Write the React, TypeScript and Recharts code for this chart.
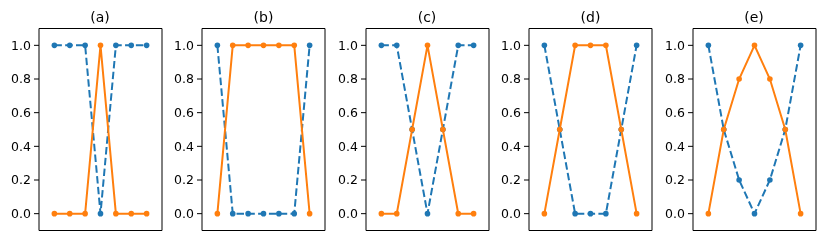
import { LineChart, Line, XAxis, YAxis, ReferenceArea } from "recharts";

const xs = [0, 1, 2, 3, 4, 5, 6];
const panelTitles = ["(a)", "(b)", "(c)", "(d)", "(e)"];
const blueA = [1, 1, 1, 0, 1, 1, 1];
const orangeA = [0, 0, 0, 1, 0, 0, 0];
const blueB = [1, 0, 0, 0, 0, 0, 1];
const orangeB = [0, 1, 1, 1, 1, 1, 0];
const blueC = [1, 1, 0.5, 0, 0.5, 1, 1];
const orangeC = [0, 0, 0.5, 1, 0.5, 0, 0];
const blueD = [1, 0.5, 0, 0, 0, 0.5, 1];
const orangeD = [0, 0.5, 1, 1, 1, 0.5, 0];
const blueE = [1, 0.5, 0.2, 0, 0.2, 0.5, 1];
const orangeE = [0, 0.5, 0.8, 1, 0.8, 0.5, 0];
const yTicks = [0, 0.2, 0.4, 0.6, 0.8, 1.0];

const series = [
  [blueA, orangeA],
  [blueB, orangeB],
  [blueC, orangeC],
  [blueD, orangeD],
  [blueE, orangeE],
];

const BLUE = "#1f77b4";
const ORANGE = "#ff7f0e";
const FONT = "DejaVu Sans, sans-serif";

const plotLefts = [38.5, 202, 365.5, 529, 692.5];
const plotW = 123;
const axisW = 40;
const top = 28.5;
const bottom = 15.5;
const H = 246;

function Panel({ idx }: { idx: number }) {
  const [blue, orange] = series[idx];
  const data = xs.map((x, i) => ({ x, blue: blue[i], orange: orange[i] }));
  const left = plotLefts[idx] - axisW;
  return (
    <div style={{ position: "absolute", left, top: 0, width: plotW + axisW + 2, height: H }}>
      <div
        style={{
          position: "absolute",
          left: axisW,
          width: plotW,
          top: 8,
          textAlign: "center",
          fontFamily: FONT,
          fontSize: 14,
          lineHeight: "18px",
          color: "#000",
        }}
      >
        {panelTitles[idx]}
      </div>
      <LineChart
        width={plotW + axisW + 2}
        height={H}
        data={data}
        margin={{ top, bottom, left: 0, right: 2 }}
      >
        <XAxis type="number" dataKey="x" domain={[-1, 7]} hide allowDataOverflow />
        <YAxis
          type="number"
          domain={[-0.1, 1.1]}
          ticks={yTicks}
          width={axisW}
          allowDataOverflow
          axisLine={false}
          tickSize={5}
          tickMargin={3}
          tickLine={{ stroke: "#000" }}
          tick={{ fill: "#000", fontSize: 12.5, fontFamily: FONT }}
          tickFormatter={(v: number) => v.toFixed(1)}
        />
        <ReferenceArea
          x1={-1}
          x2={7}
          y1={-0.1}
          y2={1.1}
          fill="none"
          fillOpacity={0}
          stroke="#000"
          strokeWidth={1}
          ifOverflow="visible"
        />
        <Line
          dataKey="blue"
          stroke={BLUE}
          strokeWidth={2}
          strokeDasharray="7.5 3.3"
          dot={{ r: 2.8, fill: BLUE, stroke: BLUE, strokeWidth: 0 }}
          isAnimationActive={false}
        />
        <Line
          dataKey="orange"
          stroke={ORANGE}
          strokeWidth={2}
          dot={{ r: 2.8, fill: ORANGE, stroke: ORANGE, strokeWidth: 0 }}
          isAnimationActive={false}
        />
      </LineChart>
    </div>
  );
}

export default function App() {
  return (
    <div
      style={{
        position: "fixed",
        left: 0,
        top: 0,
        width: 830,
        height: 246,
        background: "#fff",
      }}
    >
      {panelTitles.map((_, i) => (
        <Panel key={i} idx={i} />
      ))}
    </div>
  );
}
